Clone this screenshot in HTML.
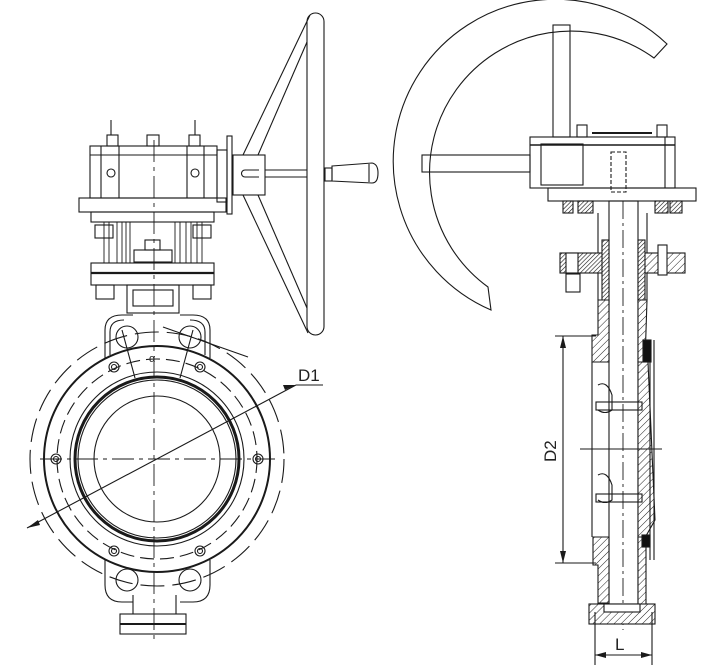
<!DOCTYPE html>
<html><head><meta charset="utf-8"><style>
html,body{margin:0;padding:0;background:#fff;}
svg{display:block;}
text{font-family:"Liberation Sans",sans-serif;fill:#222;}
</style></head><body>
<svg width="706" height="671" viewBox="0 0 706 671" xmlns="http://www.w3.org/2000/svg">
<defs>
<pattern id="h" width="5" height="5" patternUnits="userSpaceOnUse" patternTransform="rotate(45)">
<rect width="5" height="5" fill="#fff"/><line x1="0" y1="0" x2="0" y2="5" stroke="#222" stroke-width="1"/></pattern>
<pattern id="hd" width="3" height="3" patternUnits="userSpaceOnUse" patternTransform="rotate(45)">
<rect width="3" height="3" fill="#fff"/><line x1="0" y1="0" x2="0" y2="3" stroke="#111" stroke-width="1.2"/></pattern>
</defs>
<g fill="none" stroke="#1a1a1a" stroke-width="1.1">
<!-- ===== LEFT VIEW ===== -->
<!-- body circles -->
<circle cx="157" cy="459" r="113" stroke-width="2"/>
<circle cx="157" cy="459" r="87"/>
<circle cx="157" cy="459" r="82" stroke-width="3"/>
<circle cx="157" cy="459" r="79"/>
<circle cx="157" cy="459" r="63"/>
<circle cx="157" cy="459" r="100" stroke-dasharray="14,6"/>
<circle cx="157" cy="459" r="127" stroke-dasharray="24,8"/>
<!-- bolts -->
<g>
<circle cx="56" cy="459" r="5"/><circle cx="56" cy="459" r="2.5"/>
<circle cx="258" cy="459" r="5"/><circle cx="258" cy="459" r="2.5"/>
<circle cx="114" cy="367" r="5"/><circle cx="114" cy="367" r="2.5"/>
<circle cx="200" cy="367" r="5"/><circle cx="200" cy="367" r="2.5"/>
<circle cx="114" cy="551" r="5"/><circle cx="114" cy="551" r="2.5"/>
<circle cx="200" cy="551" r="5"/><circle cx="200" cy="551" r="2.5"/>
</g>
<!-- top lugs -->
<path d="M105 358 L105 330 Q105 315 122 315 L133 315 M180 315 L193 315 Q210 315 210 330 L210 358"/>
<path d="M110 355 L110 332 Q110 320 124 320 M190 320 Q205 320 205 332 L205 355"/>
<circle cx="127" cy="337" r="11"/><circle cx="190" cy="337" r="11"/>
<line x1="122" y1="330" x2="135" y2="378"/><line x1="193" y1="330" x2="180" y2="378"/>
<line x1="163" y1="327" x2="248" y2="357"/>
<!-- bottom lugs -->
<path d="M105 560 L105 585 Q105 602 122 602 L133 602 M180 602 L193 602 Q210 602 210 585 L210 560"/>
<circle cx="127" cy="580" r="11"/><circle cx="190" cy="580" r="11"/>
<line x1="133" y1="595" x2="133" y2="614"/><line x1="176" y1="595" x2="176" y2="614"/>
<rect x="120" y="614" width="66" height="20"/>
<line x1="120" y1="624" x2="186" y2="624" stroke-width="2"/>
<!-- center lines -->
<line x1="40" y1="459" x2="275" y2="459" stroke-dasharray="22,5,4,5" stroke-width="0.9"/>
<line x1="154" y1="140" x2="154" y2="640" stroke-dasharray="22,5,4,5" stroke-width="0.9"/>
<!-- D1 leader -->
<line x1="27" y1="528" x2="296" y2="385"/>
<line x1="296" y1="385" x2="323" y2="385"/>
<!-- neck -->
<rect x="127" y="285" width="52" height="28"/>
<rect x="133" y="290" width="40" height="16"/>
<!-- flange -->
<rect x="91" y="263" width="123" height="22"/>
<line x1="91" y1="273" x2="214" y2="273" stroke-width="2.2"/>
<rect x="96" y="285" width="18" height="14"/><rect x="193" y="285" width="18" height="14"/>
<!-- studs -->
<g stroke-width="0.9">
<line x1="104" y1="222" x2="104" y2="263"/><line x1="109" y1="222" x2="109" y2="263"/>
<line x1="117" y1="222" x2="117" y2="263"/><line x1="122" y1="222" x2="122" y2="263"/>
<line x1="126" y1="222" x2="126" y2="263"/><line x1="130" y1="222" x2="130" y2="263"/>
<line x1="175" y1="222" x2="175" y2="263"/><line x1="180" y1="222" x2="180" y2="263"/>
<line x1="186" y1="222" x2="186" y2="263"/><line x1="191" y1="222" x2="191" y2="263"/>
<line x1="197" y1="222" x2="197" y2="263"/><line x1="202" y1="222" x2="202" y2="263"/>
</g>
<rect x="95" y="225" width="18" height="13"/><rect x="193" y="225" width="18" height="13"/>
<rect x="134" y="250" width="38" height="12"/><rect x="145" y="240" width="15" height="10"/>
<!-- actuator -->
<rect x="91" y="212" width="123" height="10"/>
<rect x="79" y="198" width="147" height="14"/>
<rect x="90" y="146" width="127" height="52"/>
<line x1="90" y1="155" x2="217" y2="155"/>
<line x1="101" y1="146" x2="101" y2="198"/><line x1="119" y1="146" x2="119" y2="198"/>
<line x1="187" y1="146" x2="187" y2="198"/><line x1="204" y1="146" x2="204" y2="198"/>
<rect x="107" y="135" width="11" height="11"/><rect x="147" y="135" width="12" height="11"/><rect x="189" y="135" width="11" height="11"/>
<circle cx="111" cy="173" r="4"/><circle cx="195" cy="173" r="4"/>
<line x1="111" y1="120" x2="111" y2="135"/><line x1="195" y1="120" x2="195" y2="135"/>
<rect x="217" y="150" width="10" height="52"/><rect x="227" y="136" width="5" height="78"/>
<!-- handwheel left -->
<rect x="233" y="155" width="32" height="40"/>
<path d="M245 170 L259 170 M245 177 L259 177 M245 170 A3.5 3.5 0 0 0 245 177"/>
<line x1="265" y1="170" x2="307" y2="170"/><line x1="265" y1="177" x2="307" y2="177"/>
<rect x="307" y="13" width="17" height="322" rx="8.5"/>
<line x1="243" y1="155" x2="310" y2="15"/><line x1="258" y1="155" x2="307" y2="42"/>
<line x1="243" y1="195" x2="308" y2="333"/><line x1="258" y1="195" x2="307" y2="308"/>
<rect x="325" y="168" width="7" height="13"/>
<path d="M332 166 L372 163 Q378 164 378 173 Q378 183 372 183 L332 181 Z"/>
<line x1="369" y1="164" x2="369" y2="182"/>
<!-- ===== RIGHT VIEW ===== -->
<path d="M667 44 A162 162 0 1 0 491 310 L488 287 A141 141 0 1 1 654 58 Z"/>
<rect x="553" y="25" width="17" height="112"/>
<rect x="422" y="155" width="108" height="17"/>
<!-- gearbox -->
<rect x="530" y="137" width="145" height="51"/>
<line x1="530" y1="145" x2="675" y2="145" stroke-width="1.6"/>
<rect x="541" y="144" width="42" height="41"/>
<rect x="548" y="188" width="148" height="13"/>
<rect x="577" y="125" width="10" height="12"/><rect x="657" y="125" width="10" height="12"/>
<line x1="592" y1="133" x2="652" y2="133" stroke-width="2"/>
<rect x="611" y="152" width="15" height="40" stroke-dasharray="4,2"/>
<line x1="665" y1="137" x2="665" y2="188"/>
<!-- lower plate pads -->
<rect x="563" y="201" width="10" height="12" fill="url(#hd)"/>
<rect x="578" y="201" width="15" height="12" fill="url(#hd)"/>
<rect x="670" y="201" width="12" height="12" fill="url(#hd)"/>
<rect x="655" y="201" width="13" height="12" fill="url(#hd)"/>
<!-- stem -->
<rect x="609" y="201" width="29" height="410"/>
<line x1="623" y1="201" x2="623" y2="630" stroke-dasharray="18,4,3,4" stroke-width="0.9"/>
<!-- neck outline -->
<path d="M598 213 L598 300 M647 213 L647 300"/>
<!-- flange -->
<rect x="560" y="253" width="48" height="20" fill="url(#hd)"/>
<rect x="643" y="253" width="42" height="20" fill="url(#h)"/>
<rect x="566" y="253" width="12" height="20" fill="#fff"/>
<rect x="566" y="274" width="14" height="18"/>
<rect x="658" y="245" width="9" height="30" fill="#fff"/>
<!-- packing -->
<rect x="602" y="240" width="7" height="62" fill="url(#hd)"/>
<rect x="638" y="240" width="7" height="62" fill="url(#hd)"/>
<!-- body hatch walls -->
<path d="M598 300 L609 300 L609 362 L592 362 L592 335 L598 335 Z" fill="url(#h)"/>
<path d="M638 300 L647 300 L645 362 L638 362 Z" fill="url(#h)"/>
<path d="M638 362 L648 362 L655 520 L638 550 Z" fill="url(#h)"/>
<path d="M593 537 L609 537 L609 603 L598 603 L598 565 L593 565 Z" fill="url(#h)"/>
<path d="M638 537 L646 537 L646 612 L638 612 Z" fill="url(#h)"/>
<line x1="592" y1="362" x2="592" y2="537"/><line x1="650" y1="340" x2="650" y2="560"/><line x1="654" y1="340" x2="654" y2="560"/>
<rect x="642" y="535" width="8" height="12" fill="#111"/>
<rect x="643" y="340" width="8" height="22" fill="#111"/>
<!-- disc ears -->
<path d="M598 385 Q607 380 612 395 L612 410 Q605 415 598 410"/>
<path d="M598 475 Q607 470 612 485 L612 500 Q605 505 598 500"/>
<rect x="596" y="402" width="46" height="8"/><rect x="596" y="494" width="46" height="8"/>
<!-- bottom cap -->
<rect x="589" y="604" width="66" height="20" fill="url(#h)"/>
<rect x="604" y="604" width="36" height="8" fill="#fff"/>
<!-- center horizontal -->
<line x1="580" y1="449" x2="662" y2="449"/>
<!-- D2 dimension -->
<line x1="555" y1="336" x2="596" y2="336"/>
<line x1="555" y1="563" x2="596" y2="563"/>
<line x1="563" y1="336" x2="563" y2="563"/>
<!-- L dimension -->
<line x1="595" y1="612" x2="595" y2="665"/>
<line x1="652" y1="612" x2="652" y2="665"/>
<line x1="595" y1="655" x2="652" y2="655"/>
</g>
<g fill="#1a1a1a">
<path d="M563 336 L560 348 L566 348 Z"/><path d="M563 563 L560 551 L566 551 Z"/>
<path d="M595 655 L606 652 L606 658 Z"/><path d="M652 655 L641 652 L641 658 Z"/>
<path d="M27 528 L38 520 L40 525 Z"/><path d="M296 385 L285 390 L283 385 Z"/>
</g>
<text x="298" y="381" font-size="17">D1</text>
<text transform="translate(556,462) rotate(-90)" font-size="17">D2</text>
<text x="615" y="650" font-size="17">L</text>
<text x="149" y="362" font-size="11">α</text>
</svg>
</body></html>
